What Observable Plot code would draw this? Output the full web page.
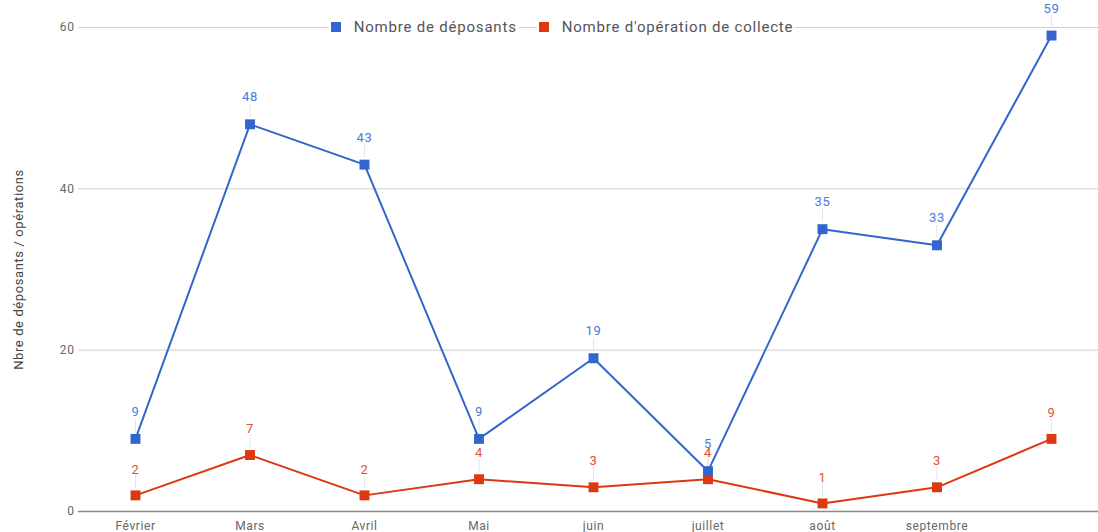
<!DOCTYPE html>
<html><head><meta charset="utf-8">
<script src="https://cdn.jsdelivr.net/npm/d3@7"></script>
<script src="https://cdn.jsdelivr.net/npm/@observablehq/plot@0.6"></script>
<style>
html,body{margin:0;padding:0;background:#fff;overflow:hidden;}
#wrap{position:relative;width:1098px;height:532px;font-family:Roboto,sans-serif;}
#legend{position:absolute;top:17px;left:0;width:1098px;text-align:center;font-size:15px;letter-spacing:0.8px;color:#555;line-height:20px;pointer-events:none;padding-left:26px;box-sizing:border-box;}
#legend .item{display:inline-block;background:#fff;padding:0 2px;margin:0 9px;}
#legend .sw{display:inline-block;width:10px;height:10px;margin-right:13px;vertical-align:0px;}
</style></head>
<body><div id="wrap"><div id="legend"></div></div>
<script>
const months = ["Février","Mars","Avril","Mai","juin","juillet","août","septembre"," "];
const deposants = [9,48,43,9,19,5,35,33,59];
const operations = [2,7,2,4,3,4,1,3,9];
const seriesNames = ["Nombre de déposants","Nombre d'opération de collecte"];
const colors = ["#3366cc","#dc3912"];
const labelColors = ["#4a7ad8","#e2502e"];
const yTicks = [0,20,40,60];

const dep = months.map((m,i)=>({m, v:deposants[i]}));
const ops = months.map((m,i)=>({m, v:operations[i]}));

const chart = Plot.plot({
  width:1098, height:532,
  marginLeft:78, marginRight:0, marginTop:27, marginBottom:21,
  style:{fontFamily:"Roboto, sans-serif", overflow:"visible", letterSpacing:"0.6px"},
  x:{type:"point", domain:months, range:[77.75,1108.25], round:false},
  y:{domain:[0,60], range:[511,27]},
  marks:[
    Plot.gridY(yTicks.slice(1), {stroke:"#d0d0d0", strokeOpacity:1}),
    Plot.ruleY([0], {stroke:"#8a8a8a", strokeWidth:1.5}),
    Plot.axisY(yTicks, {tickSize:0, tickPadding:4, fontSize:12, fill:"#666", label:null}),
    Plot.axisX({tickSize:0, tickPadding:10, fontSize:12, fill:"#666", label:null}),
    Plot.text(["Nbre de déposants / opérations"], {frameAnchor:"left", textAnchor:"middle", dx:-60, y:30, rotate:-90, fontSize:13, fill:"#444", letterSpacing:"0.8px"}),
    Plot.ruleX(dep, {x:"m", y1:"v", y2:"v", insetTop:-20, insetBottom:7, stroke:"#e6e6e6"}),
    Plot.ruleX(ops, {x:"m", y1:"v", y2:"v", insetTop:-20, insetBottom:7, stroke:"#e6e6e6"}),
    Plot.line(ops, {x:"m", y:"v", stroke:colors[1], strokeWidth:2}),
    Plot.line(dep, {x:"m", y:"v", stroke:colors[0], strokeWidth:2}),
    Plot.dot(ops, {x:"m", y:"v", symbol:"square", r:5.6, fill:colors[1], stroke:null}),
    Plot.dot(dep, {x:"m", y:"v", symbol:"square", r:5.6, fill:colors[0], stroke:null}),
    Plot.text(dep, {x:"m", y:"v", text:"v", dy:-27, fontSize:13, fill:labelColors[0]}),
    Plot.text(ops, {x:"m", y:"v", text:"v", dy:-26, fontSize:13, fill:labelColors[1]})
  ]
});
document.getElementById("wrap").prepend(chart);
const leg = document.getElementById("legend");
seriesNames.forEach((n,i)=>{
  const s = document.createElement("span"); s.className="item";
  s.innerHTML = `<span class="sw" style="background:${colors[i]}"></span>${n}`;
  leg.appendChild(s);
});
</script></body></html>
